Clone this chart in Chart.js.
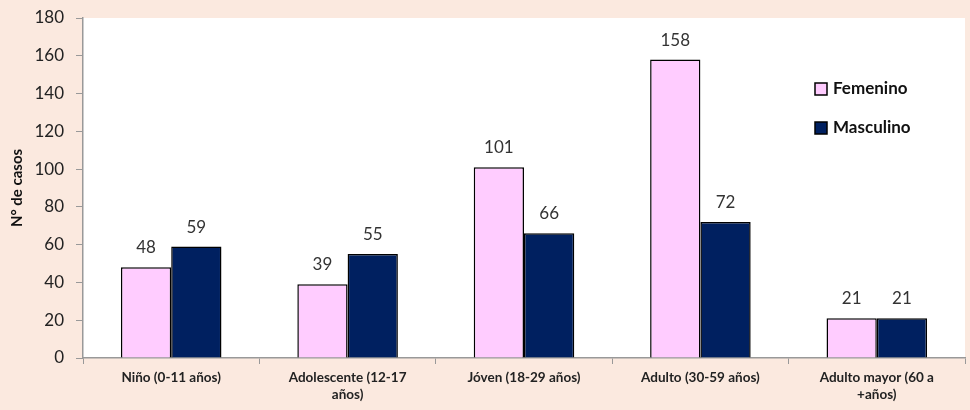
<!DOCTYPE html>
<html>
<head>
<meta charset="utf-8">
<script src="https://cdn.jsdelivr.net/npm/chart.js@4"></script>
<style>
  body { margin: 0; background: #fbe9df; }
  #wrap { width: 970px; height: 410px; }
</style>
</head>
<body>
<div id="wrap"><canvas id="myChart" width="970" height="410"></canvas></div>
<script>
const categories = [
  "Niño (0-11 años)",
  ["Adolescente (12-17", "años)"],
  "Jóven (18-29 años)",
  "Adulto (30-59 años)",
  ["Adulto mayor (60 a", "+años)"],
];
const femenino = [48, 39, 101, 158, 21];
const masculino = [59, 55, 66, 72, 21];
const yTicks = [0, 20, 40, 60, 80, 100, 120, 140, 160, 180];

const fontFam = "Lato, 'Open Sans', sans-serif";

// fondo durazno fuera, blanco dentro del area
const backgroundPlugin = {
  id: "background",
  beforeDraw(chart) {
    const { ctx, chartArea } = chart;
    ctx.save();
    ctx.fillStyle = "#fbe9df";
    ctx.fillRect(0, 0, chart.width, chart.height);
    ctx.fillStyle = "#ffffff";
    ctx.fillRect(chartArea.left, chartArea.top, chartArea.right - chartArea.left, chartArea.bottom - chartArea.top);
    ctx.restore();
  },
};

// valores encima de cada barra
const labelsPlugin = {
  id: "barLabels",
  afterDatasetsDraw(chart) {
    const ctx = chart.ctx;
    ctx.save();
    ctx.font = "17px " + fontFam;
    ctx.fillStyle = "#333";
    ctx.textAlign = "center";
    ctx.textBaseline = "bottom";
    chart.data.datasets.forEach((ds, di) => {
      chart.getDatasetMeta(di).data.forEach((bar, i) => {
        ctx.fillText(ds.data[i], bar.x, bar.y - 11);
      });
    });
    ctx.restore();
  },
};

// leyenda dentro del area, a la derecha
const legendPlugin = {
  id: "insideLegend",
  afterDraw(chart) {
    const ctx = chart.ctx;
    const x = chart.chartArea.right - 150;
    let y = chart.chartArea.top + 71;
    ctx.save();
    ctx.font = "bold 17px " + fontFam;
    ctx.textBaseline = "middle";
    chart.data.datasets.forEach((ds) => {
      ctx.fillStyle = ds.backgroundColor;
      ctx.fillRect(x, y - 6, 12, 12);
      ctx.strokeStyle = "#000";
      ctx.lineWidth = 1.5;
      ctx.strokeRect(x, y - 6, 12, 12);
      ctx.fillStyle = "#111";
      ctx.fillText(ds.label, x + 18, y);
      y += 39;
    });
    ctx.restore();
  },
};

const ctx = document.getElementById("myChart");
new Chart(ctx, {
  type: "bar",
  data: {
    labels: categories,
    datasets: [
      {
        label: "Femenino",
        data: femenino,
        backgroundColor: "#ffccff",
        borderColor: "#000",
        borderWidth: 1.5,
        borderSkipped: "bottom",
      },
      {
        label: "Masculino",
        data: masculino,
        backgroundColor: "#002060",
        borderColor: "#000",
        borderWidth: 1.5,
        borderSkipped: "bottom",
      },
    ],
  },
  options: {
    responsive: false,
    animation: false,
    layout: { padding: { left: 0, right: 5, top: 18, bottom: 0 } },
    datasets: {
      bar: { categoryPercentage: 0.57, barPercentage: 1.0 },
    },
    plugins: {
      legend: { display: false },
      tooltip: { enabled: false },
    },
    scales: {
      x: {
        grid: { drawOnChartArea: false, tickLength: 6, color: "#999", offset: true },
        border: { color: "#999", width: 1.5 },
        ticks: {
          color: "#222",
          font: { family: fontFam, size: 13.5, weight: "bold" },
          maxRotation: 0,
          padding: 6,
        },
        afterFit(scale) {
          scale.height = 52;
          scale.paddingLeft = 0;
          scale.paddingRight = 0;
        },
      },
      y: {
        min: 0,
        max: 180,
        afterBuildTicks(scale) { scale.ticks = yTicks.map((v) => ({ value: v })); },
        grid: { drawOnChartArea: false, tickLength: 7, color: "#999" },
        border: { color: "#999", width: 1.5 },
        ticks: {
          color: "#222",
          font: { family: fontFam, size: 17 },
          padding: 12,
        },
        title: {
          display: true,
          text: "N° de casos",
          color: "#111",
          font: { family: fontFam, size: 15, weight: "bold" },
          padding: { top: 8, bottom: 2 },
        },
        afterFit(scale) {
          scale.width = 83;
          scale.paddingTop = 0;
          scale.paddingBottom = 0;
        },
      },
    },
  },
  plugins: [backgroundPlugin, labelsPlugin, legendPlugin],
});
</script>
</body>
</html>
